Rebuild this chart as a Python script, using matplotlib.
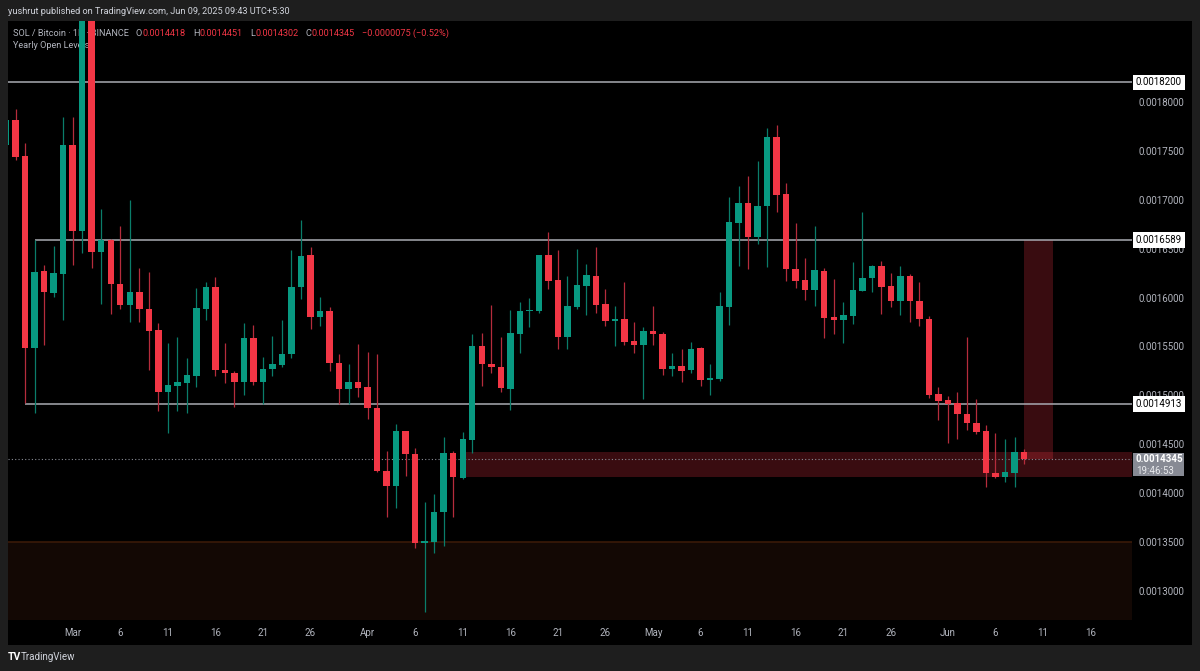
import numpy as np
import pandas as pd
import matplotlib
matplotlib.use("Agg")
import matplotlib.pyplot as plt
import matplotlib.dates as mdates
from matplotlib.patches import Rectangle
from matplotlib.transforms import blended_transform_factory

plt.rcParams['font.family'] = ['Roboto', 'DejaVu Sans']

# ---------------- data ----------------
start_date = "2025-02-22"
end_date = "2025-06-09"

opens = [0.0017560, 0.0017816, 0.0017448, 0.0015485, 0.0016272, 0.0016047, 0.0016241,
         0.0017560, 0.0016681, 0.0018950, 0.0016466, 0.0016589, 0.0016139, 0.0015924, 0.0016057, 0.0015883,
         0.0015669, 0.0015035, 0.0015096, 0.0015127, 0.0015198, 0.0015883, 0.0016108, 0.0015260, 0.0015229,
         0.0015137, 0.0015587, 0.0015137, 0.0015270, 0.0015311, 0.0015423, 0.0016108, 0.0016436, 0.0015802,
         0.0015863, 0.0015331, 0.0015065, 0.0015137,
         0.0015086, 0.0014871, 0.0014227, 0.0014074, 0.0014636, 0.0014401, 0.0013491, 0.0013501, 0.0013808,
         0.0014411, 0.0014156, 0.0014544, 0.0015505, 0.0015321, 0.0015290, 0.0015065, 0.0015628, 0.0015863,
         0.0015863, 0.0016436, 0.0016180, 0.0015597, 0.0015904, 0.0016119, 0.0016221, 0.0015935, 0.0015761,
         0.0015781, 0.0015556, 0.0015515,
         0.0015659, 0.0015628, 0.0015270, 0.0015300, 0.0015260, 0.0015485, 0.0015158, 0.0015168, 0.0015904,
         0.0016763, 0.0016967, 0.0016620, 0.0016937, 0.0017642, 0.0017059, 0.0016292, 0.0016180, 0.0016078,
         0.0016272, 0.0015802, 0.0015771, 0.0015812, 0.0016067, 0.0016200, 0.0016323, 0.0016119, 0.0015965,
         0.0016221, 0.0015965, 0.0015781, 0.0015014,
         0.0014953, 0.0014922, 0.0014810, 0.0014718, 0.0014636, 0.0014207, 0.0014166, 0.0014207, 0.0014418]

highs = [0.0017836, 0.0017929, 0.0017581, 0.0016589, 0.0016333, 0.0016528, 0.0017847,
         0.0017847, 0.0019250, 0.0019150, 0.0016906, 0.0016600, 0.0016732, 0.0016998, 0.0016303, 0.0016262,
         0.0015740, 0.0015536, 0.0015597, 0.0015382, 0.0016098, 0.0016159, 0.0016211, 0.0015536, 0.0015249,
         0.0015740, 0.0015720, 0.0015393, 0.0015607, 0.0015771, 0.0016487, 0.0016794, 0.0016517, 0.0016006,
         0.0015904, 0.0015423, 0.0015321, 0.0015526,
         0.0015444, 0.0015423, 0.0014431, 0.0014708, 0.0014640, 0.0014462, 0.0013911, 0.0013992, 0.0014575,
         0.0014431, 0.0014626, 0.0015628, 0.0015638, 0.0015924, 0.0015597, 0.0015873, 0.0015955, 0.0015996,
         0.0016440, 0.0016671, 0.0016487, 0.0016221, 0.0016497, 0.0016344, 0.0016517, 0.0016088, 0.0015914,
         0.0016159, 0.0015751, 0.0015699,
         0.0015914, 0.0015648, 0.0015433, 0.0015474, 0.0015546, 0.0015490, 0.0015321, 0.0016057, 0.0017029,
         0.0017141, 0.0017243, 0.0017397, 0.0017734, 0.0017765, 0.0017172, 0.0016763, 0.0016405, 0.0016732,
         0.0016303, 0.0016190, 0.0015955, 0.0016364, 0.0016875, 0.0016333, 0.0016374, 0.0016252, 0.0016323,
         0.0016241, 0.0016159, 0.0015812, 0.0015086,
         0.0014994, 0.0015035, 0.0015597, 0.0014963, 0.0014697, 0.0014616, 0.0014554, 0.0014575, 0.0014451]

lows = [0.0017530, 0.0017407, 0.0014922, 0.0014820, 0.0015515, 0.0016006, 0.0015771,
        0.0016333, 0.0016456, 0.0016303, 0.0015935, 0.0015832, 0.0015883, 0.0015751, 0.0015751, 0.0015260,
        0.0014841, 0.0014616, 0.0014841, 0.0014820, 0.0015086, 0.0015771, 0.0015198, 0.0015127, 0.0014881,
        0.0015004, 0.0015106, 0.0014912, 0.0015198, 0.0015290, 0.0015382, 0.0015986, 0.0015679, 0.0015710,
        0.0015249, 0.0014912, 0.0014912, 0.0014984,
        0.0014759, 0.0014217, 0.0013757, 0.0013849, 0.0014176, 0.0013440, 0.0012785, 0.0013389, 0.0013460,
        0.0013757, 0.0014145, 0.0014411, 0.0015096, 0.0015229, 0.0015035, 0.0014851, 0.0015433, 0.0015699,
        0.0015843, 0.0016088, 0.0015474, 0.0015474, 0.0015883, 0.0015822, 0.0015843, 0.0015710, 0.0015505,
        0.0015515, 0.0015433, 0.0014963,
        0.0015515, 0.0015209, 0.0015198, 0.0015137, 0.0015229, 0.0015096, 0.0015004, 0.0015147, 0.0015720,
        0.0016323, 0.0016292, 0.0016548, 0.0016313, 0.0016875, 0.0016170, 0.0016098, 0.0015976, 0.0015914,
        0.0015587, 0.0015628, 0.0015536, 0.0015730, 0.0016067, 0.0016057, 0.0015832, 0.0015904, 0.0015822,
        0.0015751, 0.0015710, 0.0014973, 0.0014748,
        0.0014513, 0.0014554, 0.0014646, 0.0014605, 0.0014064, 0.0014160, 0.0014115, 0.0014064, 0.0014302]

closes = [0.0017816, 0.0017438, 0.0015485, 0.0016262, 0.0016057, 0.0016252, 0.0017560,
          0.0016681, 0.0019000, 0.0016466, 0.0016589, 0.0016139, 0.0015924, 0.0016057, 0.0015883, 0.0015659,
          0.0015035, 0.0015106, 0.0015137, 0.0015209, 0.0015894, 0.0016108, 0.0015260, 0.0015229, 0.0015137,
          0.0015587, 0.0015137, 0.0015270, 0.0015321, 0.0015423, 0.0016108, 0.0016425, 0.0015802, 0.0015863,
          0.0015331, 0.0015065, 0.0015137, 0.0015076,
          0.0014871, 0.0014227, 0.0014074, 0.0014636, 0.0014401, 0.0013491, 0.0013512, 0.0013808, 0.0014411,
          0.0014166, 0.0014554, 0.0015505, 0.0015321, 0.0015290, 0.0015076, 0.0015638, 0.0015863, 0.0015873,
          0.0016436, 0.0016170, 0.0015597, 0.0015914, 0.0016129, 0.0016231, 0.0015924, 0.0015761, 0.0015781,
          0.0015546, 0.0015515, 0.0015659,
          0.0015628, 0.0015270, 0.0015300, 0.0015249, 0.0015474, 0.0015158, 0.0015178, 0.0015914, 0.0016773,
          0.0016967, 0.0016620, 0.0016937, 0.0017642, 0.0017049, 0.0016292, 0.0016170, 0.0016078, 0.0016282,
          0.0015791, 0.0015771, 0.0015822, 0.0016078, 0.0016200, 0.0016323, 0.0016108, 0.0015965, 0.0016221,
          0.0015965, 0.0015781, 0.0015004, 0.0014943,
          0.0014912, 0.0014810, 0.0014718, 0.0014626, 0.0014207, 0.0014166, 0.0014217, 0.0014418, 0.0014345]

yearly_levels = [0.0018200, 0.0016589, 0.0014913]
yearly_level_starts = ["2025-02-01", "2025-02-25", "2025-02-24"]

zone_start = "2025-04-11"
zone_low, zone_high = 0.0014168, 0.0014424
support_top = 0.0013500
target_start, target_end = "2025-06-09", "2025-06-12"
target_low, target_high = 0.0014345, 0.0016589

xtick_dates = ["2025-03-01", "2025-03-06", "2025-03-11", "2025-03-16", "2025-03-21", "2025-03-26",
               "2025-04-01", "2025-04-06", "2025-04-11", "2025-04-16", "2025-04-21", "2025-04-26",
               "2025-05-01", "2025-05-06", "2025-05-11", "2025-05-16", "2025-05-21", "2025-05-26",
               "2025-06-01", "2025-06-06", "2025-06-11", "2025-06-16"]
xtick_labels = ["Mar", "6", "11", "16", "21", "26", "Apr", "6", "11", "16", "21", "26",
                "May", "6", "11", "16", "21", "26", "Jun", "6", "11", "16"]
ytick_values = [0.0013000, 0.0013500, 0.0014000, 0.0014500, 0.0015000, 0.0015500,
                0.0016000, 0.0016500, 0.0017000, 0.0017500, 0.0018000]

last_price = closes[-1]
countdown = "19:46:53"
header = "yushrut published on TradingView.com, Jun 09, 2025 09:43 UTC+5:30"
legend_symbol = "SOL / Bitcoin · 1D · BINANCE"
legend_ohlc = [("O", "0.0014418"), ("H", "0.0014451"), ("L", "0.0014302"), ("C", "0.0014345")]
legend_change = "\u22120.0000075 (\u22120.52%)"
indicator_name = "Yearly Open Levels"

# ---------------- styling ----------------
UP = '#089981'
DOWN = '#f23645'
UP_W = '#0a7d6a'
DOWN_W = '#b52c3c'
TXT = '#b2b5be'
W, H = 1200, 671

def fx(px):
    return px / W

def fy(py):
    return 1 - py / H

fig = plt.figure(figsize=(12, 6.71), dpi=100, facecolor='#1e1e1e')

bg = fig.add_axes([fx(8), fy(645), fx(1192 - 8), (645 - 21) / H])
bg.set_facecolor('black')
bg.set_xticks([]); bg.set_yticks([])
for s in bg.spines.values():
    s.set_visible(False)

ax = fig.add_axes([fx(8), fy(620), fx(1132 - 8), (620 - 21) / H])
ax.set_facecolor('black')
for s in ax.spines.values():
    s.set_visible(False)

d = pd.date_range(start_date, end_date, freq='D')
x = mdates.date2num(d)
o = np.array(opens); h = np.array(highs); l = np.array(lows); c = np.array(closes)
up = c >= o

mar1 = mdates.date2num(pd.Timestamp("2025-03-01"))
ax.set_xlim(mar1 - 6.80, mar1 + 111.35)
ax.set_ylim(0.0012703, 0.0018828)

# zones
ax.axhspan(0.0010, support_top, facecolor='#130804', edgecolor='none', zorder=0.5)
ax.axhline(support_top, color='#3a1a08', lw=1.2, zorder=0.6)
zs = mdates.date2num(pd.Timestamp(zone_start))
ax.add_patch(Rectangle((zs, zone_low), 400, zone_high - zone_low, facecolor=DOWN,
                       alpha=0.24, edgecolor='none', zorder=1))
ts = mdates.date2num(pd.Timestamp(target_start)); te = mdates.date2num(pd.Timestamp(target_end))
ax.add_patch(Rectangle((ts, target_low), te - ts, target_high - target_low, facecolor=DOWN,
                       alpha=0.24, edgecolor='none', zorder=1))

# yearly open levels
for lv, st in zip(yearly_levels, yearly_level_starts):
    s0 = mdates.date2num(pd.Timestamp(st))
    ax.hlines(lv, s0, mar1 + 200, color='#a9abb2', lw=1.1, zorder=2)

# last price dotted
ax.axhline(last_price, color='#8a8d96', lw=0.8, ls=(0, (1, 2)), zorder=2)

# candles
ax.vlines(x[up], l[up], h[up], color=UP_W, lw=0.9, zorder=3)
ax.vlines(x[~up], l[~up], h[~up], color=DOWN_W, lw=0.9, zorder=3)
body_lo = np.minimum(o, c)
body_h = np.maximum(np.abs(c - o), 0.0000012)
ax.bar(x[up], body_h[up], bottom=body_lo[up], width=0.68, color=UP, zorder=4, linewidth=0)
ax.bar(x[~up], body_h[~up], bottom=body_lo[~up], width=0.68, color=DOWN, zorder=4, linewidth=0)

# axes ticks
ax.set_xticks([mdates.date2num(pd.Timestamp(t)) for t in xtick_dates])
ax.set_xticklabels(xtick_labels)
ax.tick_params(axis='x', length=0, pad=6, labelsize=7, labelcolor=TXT)
ax.yaxis.tick_right()
ax.set_yticks(ytick_values)
ax.set_yticklabels([f"{v:.7f}" for v in ytick_values])
ax.tick_params(axis='y', length=0, pad=5, labelsize=7, labelcolor=TXT)

# level boxes on price scale
bt = blended_transform_factory(ax.transAxes, ax.transData)
for lv in yearly_levels:
    ax.text(1.0035, lv, f"{lv:.7f}", transform=bt, ha='left', va='center', fontsize=7,
            color='black', zorder=6, clip_on=False,
            bbox=dict(boxstyle='square,pad=0.28', fc='white', ec='none'))

# current price label
fig.canvas.draw()
renderer = fig.canvas.get_renderer()
ypix = ax.transData.transform((x[-1], last_price))[1]
box_top = ypix + 6
fig.patches.append(Rectangle((1133, box_top - 23), 51, 23, transform=None,
                             facecolor='#878a94', edgecolor='none', zorder=5))
fig.text(fx(1136), (ypix) / H, f"{last_price:.7f}", ha='left', va='center', fontsize=7,
         color='white', fontweight='bold', zorder=6)
fig.text(fx(1136), (ypix - 11.5) / H, countdown, ha='left', va='center', fontsize=7,
         color='#e8e9ec', zorder=6)

# legend (laid out left to right by measured width)
lt = fig.transFigure
LFS = 6.6

def put(px, t, col, gap):
    tx = ax.text(fx(px), fy(33), t, transform=lt, ha='left', va='center', fontsize=LFS,
                 color=col, zorder=2.5, clip_on=False)
    bb = tx.get_window_extent(renderer=renderer)
    return bb.x1 + gap

cur = put(13, legend_symbol, TXT, 7)
for lab, val in legend_ohlc:
    cur = put(cur, lab, TXT, 0.5)
    cur = put(cur, val, DOWN, 7)
put(cur, legend_change, DOWN, 0)

ax.text(fx(13), fy(45), indicator_name, transform=lt, ha='left', va='center',
        fontsize=LFS, color=TXT, zorder=2.5, clip_on=False)

fig.text(fx(8), fy(11), header, ha='left', va='center', fontsize=6.6, color='#d1d4dc')
fig.text(fx(8), fy(657), "TV", ha='left', va='center', fontsize=7.5, color='white', fontweight='bold')
fig.text(fx(21), fy(657), "TradingView", ha='left', va='center', fontsize=7, color='#d1d4dc')

fig.savefig("out.png", dpi=100, facecolor=fig.get_facecolor())
